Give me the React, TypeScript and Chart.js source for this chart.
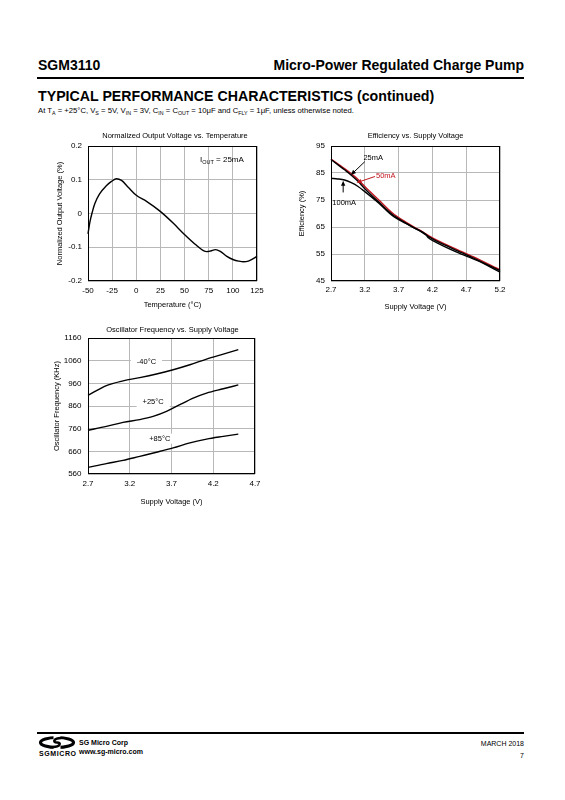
import React, { useEffect, useRef } from "react";
import { Chart, registerables } from "chart.js";
Chart.register(...registerables);

const FONT = '"Liberation Sans", Arial, Helvetica, sans-serif';
const GRID = "#b8b8b8";
const RED = "#c0161e";

// ---------- Chart 1: Normalized Output Voltage vs. Temperature ----------
const tempX = [-50, -48, -45.5, -43, -38, -31, -25.7, -20.5, -15.3, -8.4, 0, 10.6, 24.5, 38.4, 48.8, 62.6, 69.5, 73, 77, 82, 87, 93.8, 100.7, 106, 111, 116, 121, 125];
const normVout = [-0.06, -0.025, 0.005, 0.029, 0.058, 0.082, 0.095, 0.103, 0.098, 0.078, 0.054, 0.036, 0.007, -0.029, -0.059, -0.095, -0.11, -0.113, -0.111, -0.107, -0.112, -0.127, -0.137, -0.141, -0.143, -0.141, -0.134, -0.127];
const tempTicks = [-50, -25, 0, 25, 50, 75, 100, 125];
const tempTickLabels = ["-50", "-25", "0", "25", "50", "75", "100", "125"];
const voutTicks = [-0.2, -0.1, 0, 0.1, 0.2];
const voutTickLabels = ["-0.2", "-0.1", "0", "0.1", "0.2"];

// ---------- Chart 2: Efficiency vs. Supply Voltage ----------
const vEff = [2.7, 2.8, 2.9, 3.0, 3.1, 3.2, 3.4, 3.6, 3.8, 4.0, 4.2, 4.5, 4.8, 5.2];
const eff25mA = [90.0, 88.1, 86.2, 84.2, 81.9, 79.2, 74.4, 69.8, 66.5, 63.7, 60.6, 57.0, 53.6, 48.8];
const eff50mA = [90.2, 88.4, 86.6, 84.7, 82.6, 80.0, 75.2, 70.4, 66.9, 64.0, 61.0, 57.4, 54.0, 49.1];
const vEff100 = [2.7, 2.8, 2.9, 3.0, 3.1, 3.2, 3.4, 3.6, 3.8, 3.97, 4.1, 4.14, 4.22, 4.56, 4.86, 5.2];
const eff100mA = [83.0, 82.8, 82.4, 81.4, 80.0, 78.1, 74.0, 69.4, 66.4, 64.2, 62.3, 61.0, 59.8, 55.7, 52.6, 48.3];
const vEffTicks = [2.7, 3.2, 3.7, 4.2, 4.7, 5.2];
const vEffTickLabels = ["2.7", "3.2", "3.7", "4.2", "4.7", "5.2"];
const effTicks = [45, 55, 65, 75, 85, 95];
const effTickLabels = ["45", "55", "65", "75", "85", "95"];

// ---------- Chart 3: Oscillator Frequency vs. Supply Voltage ----------
const vOsc = [2.7, 2.92, 3.12, 3.32, 3.52, 3.72, 3.92, 4.12, 4.32, 4.5];
const fMinus40 = [907, 950, 971, 985, 1001, 1020, 1042, 1067, 1089, 1109];
const vOsc25 = [2.7, 2.92, 3.12, 3.32, 3.48, 3.64, 3.8, 3.96, 4.12, 4.32, 4.5];
const fPlus25 = [753, 770, 788, 800, 814, 836, 866, 895, 917, 936, 953];
const fPlus85 = [589, 606, 620, 638, 656, 675, 697, 714, 726, 736];
const vOscTicks = [2.7, 3.2, 3.7, 4.2, 4.7];
const vOscTickLabels = ["2.7", "3.2", "3.7", "4.2", "4.7"];
const freqTicks = [560, 660, 760, 860, 960, 1060, 1160];
const freqTickLabels = ["560", "660", "760", "860", "960", "1060", "1160"];

const pts = (xs: number[], ys: number[]) => xs.map((x, i) => ({ x, y: ys[i] }));

type Note =
  | { kind: "text"; x: number; y: number; text: string; color?: string; align?: CanvasTextAlign; bg?: number; sub?: [string, string, string] }
  | { kind: "arrow"; x1: number; y1: number; x2: number; y2: number; color?: string };

const framePlugin = {
  id: "frame",
  afterDatasetsDraw(chart: any) {
    const { ctx, chartArea: a } = chart;
    ctx.save();
    ctx.strokeStyle = "#000";
    ctx.lineWidth = 1;
    const l = Math.round(a.left) + 0.5, t = Math.round(a.top) + 0.5;
    const r = Math.round(a.right) - 0.5, b = Math.round(a.bottom) - 0.5;
    ctx.strokeRect(l, t, r - l, b - t);
    ctx.restore();
  },
};

function drawNotes(chart: any, notes: Note[], phase: "bg" | "fg") {
  const { ctx, scales } = chart;
  const xs = scales.x, ys = scales.y;
  ctx.save();
  ctx.font = `7.5px ${FONT}`;
  ctx.textBaseline = "middle";
  for (const n of notes) {
    if (n.kind === "text") {
      const px = xs.getPixelForValue(n.x), py = ys.getPixelForValue(n.y);
      ctx.textAlign = n.align || "center";
      if (phase === "bg" && n.bg) {
        const w = ctx.measureText(n.text).width + n.bg * 2;
        ctx.fillStyle = "#fff";
        ctx.fillRect(px - w / 2, py - 5, w, 10);
      }
      if (phase === "fg") {
        ctx.fillStyle = n.color || "#000";
        if (n.sub) {
          ctx.textAlign = "left";
          let cx = px;
          ctx.font = `8px ${FONT}`;
          ctx.fillText(n.sub[0], cx, py);
          cx += ctx.measureText(n.sub[0]).width;
          ctx.font = `5.5px ${FONT}`;
          ctx.fillText(n.sub[1], cx, py + 2.5);
          cx += ctx.measureText(n.sub[1]).width;
          ctx.font = `8px ${FONT}`;
          ctx.fillText(n.sub[2], cx, py);
          ctx.font = `7.5px ${FONT}`;
        } else {
          ctx.fillText(n.text, px, py);
        }
      }
    } else if (phase === "fg") {
      const x1 = xs.getPixelForValue(n.x1), y1 = ys.getPixelForValue(n.y1);
      const x2 = xs.getPixelForValue(n.x2), y2 = ys.getPixelForValue(n.y2);
      const c = n.color || "#000";
      const ang = Math.atan2(y2 - y1, x2 - x1);
      const hl = 5, hw = 2.2;
      ctx.strokeStyle = c;
      ctx.fillStyle = c;
      ctx.lineWidth = 1;
      ctx.beginPath();
      ctx.moveTo(x1, y1);
      ctx.lineTo(x2 - Math.cos(ang) * hl * 0.8, y2 - Math.sin(ang) * hl * 0.8);
      ctx.stroke();
      ctx.beginPath();
      ctx.moveTo(x2, y2);
      ctx.lineTo(x2 - Math.cos(ang) * hl - Math.sin(ang) * hw, y2 - Math.sin(ang) * hl + Math.cos(ang) * hw);
      ctx.lineTo(x2 - Math.cos(ang) * hl + Math.sin(ang) * hw, y2 - Math.sin(ang) * hl - Math.cos(ang) * hw);
      ctx.closePath();
      ctx.fill();
    }
  }
  ctx.restore();
}

interface Spec {
  title: string;
  titleDX: number;
  titleDY: number;
  datasets: any[];
  xMin: number; xMax: number; xTicks: number[]; xLabels: string[]; xTitle: string;
  yMin: number; yMax: number; yTicks: number[]; yLabels: string[]; yTitle: string;
  pad: { left: number; right: number; top: number; bottom: number };
  yWidth: number; xHeight: number;
  yTickPad: number; yTitlePad: number; xTickPad: number; xTitlePad: number;
  notes: Note[];
}

function buildConfig(s: Spec): any {
  const tickFont = { family: FONT, size: 8 };
  const titleFont = { family: FONT, size: 7.5 };
  return {
    type: "line",
    data: { datasets: s.datasets },
    options: {
      responsive: false,
      animation: false,
      events: [],
      layout: { padding: s.pad, autoPadding: false },
      plugins: { legend: { display: false }, tooltip: { enabled: false }, title: { display: false } },
      elements: { point: { radius: 0 } },
      scales: {
        x: {
          type: "linear", min: s.xMin, max: s.xMax,
          afterBuildTicks: (sc: any) => { sc.ticks = s.xTicks.map((v) => ({ value: v })); },
          afterFit: (sc: any) => { sc.height = s.xHeight; },
          grid: { color: GRID, lineWidth: 1, drawTicks: false },
          border: { display: false },
          ticks: {
            autoSkip: false, maxRotation: 0, padding: s.xTickPad, color: "#000", font: tickFont,
            callback: (v: number) => s.xLabels[s.xTicks.indexOf(v)] ?? "",
          },
          title: { display: true, text: s.xTitle, color: "#000", font: titleFont, padding: { top: 0, bottom: s.xTitlePad } },
        },
        y: {
          type: "linear", min: s.yMin, max: s.yMax,
          afterBuildTicks: (sc: any) => { sc.ticks = s.yTicks.map((v) => ({ value: v })); },
          afterFit: (sc: any) => { sc.width = s.yWidth; },
          grid: { color: GRID, lineWidth: 1, drawTicks: false },
          border: { display: false },
          ticks: {
            autoSkip: false, padding: s.yTickPad, color: "#000", font: tickFont,
            callback: (v: number) => s.yLabels[s.yTicks.indexOf(v)] ?? "",
          },
          title: { display: true, text: s.yTitle, color: "#000", font: titleFont, padding: { top: s.yTitlePad, bottom: 0 } },
        },
      },
    },
    plugins: [
      framePlugin,
      {
        id: "chartTitle",
        afterDraw(chart: any) {
          const { ctx, chartArea: a } = chart;
          ctx.save();
          ctx.font = `7.5px ${FONT}`;
          ctx.fillStyle = "#000";
          ctx.textAlign = "center";
          ctx.textBaseline = "middle";
          ctx.fillText(s.title, (a.left + a.right) / 2 + s.titleDX, a.top - s.titleDY);
          ctx.restore();
        },
      },
      {
        id: "notes",
        beforeDatasetsDraw(chart: any) { drawNotes(chart, s.notes, "bg"); },
        afterDatasetsDraw(chart: any) { drawNotes(chart, s.notes, "fg"); },
      },
    ],
  };
}

const lineDs = (data: any[], color = "#000") => ({
  data, borderColor: color, borderWidth: 1.4, pointRadius: 0, fill: false,
  cubicInterpolationMode: "monotone", clip: false,
});

const spec1: Spec = {
  title: "Normalized Output Voltage vs. Temperature", titleDX: 2.5, titleDY: 10,
  datasets: [lineDs(pts(tempX, normVout))],
  xMin: -50, xMax: 125, xTicks: tempTicks, xLabels: tempTickLabels, xTitle: "Temperature (°C)",
  yMin: -0.2, yMax: 0.2, yTicks: voutTicks, yLabels: voutTickLabels, yTitle: "Normalized Output Voltage (%)",
  pad: { left: 0, right: 23, top: 21, bottom: 0 },
  yWidth: 48, xHeight: 34, yTickPad: 6, yTitlePad: 15.5, xTickPad: 5, xTitlePad: 5.5,
  notes: [{ kind: "text", x: 66, y: 0.16, text: "IOUT = 25mA", sub: ["I", "OUT", " = 25mA"] }],
};

const spec2: Spec = {
  title: "Efficiency vs. Supply Voltage", titleDX: 0, titleDY: 10.3,
  datasets: [
    lineDs(pts(vEff100, eff100mA)),
    lineDs(pts(vEff, eff25mA)),
    lineDs(pts(vEff, eff50mA), RED),
  ],
  xMin: 2.7, xMax: 5.2, xTicks: vEffTicks, xLabels: vEffTickLabels, xTitle: "Supply Voltage (V)",
  yMin: 45, yMax: 95, yTicks: effTicks, yLabels: effTickLabels, yTitle: "Efficiency (%)",
  pad: { left: 0, right: 30, top: 21, bottom: 0 },
  yWidth: 41, xHeight: 34, yTickPad: 6, yTitlePad: 7.2, xTickPad: 3.5, xTitlePad: 3.8,
  notes: [
    { kind: "text", x: 3.18, y: 90.44, text: "25mA", align: "left" },
    { kind: "arrow", x1: 3.2, y1: 89.2, x2: 2.995, y2: 84.3 },
    { kind: "text", x: 3.365, y: 84.0, text: "50mA", align: "left", color: RED },
    { kind: "arrow", x1: 3.35, y1: 83.7, x2: 3.078, y2: 81.4, color: RED },
    { kind: "text", x: 2.72, y: 73.8, text: "100mA", align: "left" },
    { kind: "arrow", x1: 2.88, y1: 77.8, x2: 2.88, y2: 82.1 },
  ],
};

const spec3: Spec = {
  title: "Oscillator Frequency vs. Supply Voltage", titleDX: 1, titleDY: 8,
  datasets: [
    lineDs(pts(vOsc, fMinus40)),
    lineDs(pts(vOsc25, fPlus25)),
    lineDs(pts(vOsc, fPlus85)),
  ],
  xMin: 2.7, xMax: 4.7, xTicks: vOscTicks, xLabels: vOscTickLabels, xTitle: "Supply Voltage (V)",
  yMin: 560, yMax: 1160, yTicks: freqTicks, yLabels: freqTickLabels, yTitle: "Oscillator Frequency (KHz)",
  pad: { left: 0, right: 25, top: 18, bottom: 0 },
  yWidth: 48, xHeight: 36, yTickPad: 6.5, yTitlePad: 12.8, xTickPad: 5.2, xTitlePad: 3.8,
  notes: [
    { kind: "text", x: 3.4, y: 1056, text: "-40°C", bg: 6 },
    { kind: "text", x: 3.48, y: 876, text: "+25°C", bg: 6 },
    { kind: "text", x: 3.56, y: 716, text: "+85°C", bg: 4 },
  ],
};

function ChartBox({ left, top, width, height, spec }: { left: number; top: number; width: number; height: number; spec: Spec }) {
  const ref = useRef<HTMLCanvasElement>(null);
  useEffect(() => {
    const chart = new Chart(ref.current as HTMLCanvasElement, buildConfig(spec));
    return () => chart.destroy();
  }, [spec]);
  return (
    <div style={{ position: "absolute", left, top, width, height }}>
      <canvas ref={ref} width={width} height={height} style={{ width, height, display: "block" }} />
    </div>
  );
}

const Sub = ({ children }: { children: React.ReactNode }) => (
  <span style={{ fontSize: 5.3, position: "relative", top: 1.8 }}>{children}</span>
);

function Logo() {
  return (
    <svg width={46} height={24} viewBox="0 0 46 24" style={{ position: "absolute", left: 36, top: 735 }}>
      <ellipse cx={21} cy={7.5} rx={16.5} ry={5} fill="none" stroke="#000" strokeWidth={3.2} />
      <rect x={17.5} y={0} width={7} height={15} fill="#fff" />
      <path d="M25 3 C18 3 16 7.5 21 7.5 C26 7.5 24 12 17 12" fill="none" stroke="#000" strokeWidth={2.4} />
      <text x={3} y={20.5} fontFamily={FONT} fontSize={7} fontWeight="bold" letterSpacing={0.6} fill="#000">SGMICRO</text>
    </svg>
  );
}

export default function App() {
  return (
    <div style={{ position: "absolute", left: 0, top: 0, width: 565, height: 800, background: "#fff", fontFamily: FONT, color: "#000", overflow: "hidden" }}>
      <div style={{ position: "absolute", left: 38, top: 57, fontSize: 14, fontWeight: "bold", lineHeight: "16px", whiteSpace: "nowrap" }}>SGM3110</div>
      <div style={{ position: "absolute", right: 41, top: 57, fontSize: 14, fontWeight: "bold", lineHeight: "16px", whiteSpace: "nowrap" }}>Micro-Power Regulated Charge Pump</div>
      <div style={{ position: "absolute", left: 37, top: 77, width: 487, height: 2, background: "#000" }} />
      <div style={{ position: "absolute", left: 38, top: 88, fontSize: 14.2, fontWeight: "bold", lineHeight: "16px", whiteSpace: "nowrap" }}>TYPICAL PERFORMANCE CHARACTERISTICS (continued)</div>
      <div style={{ position: "absolute", left: 38, top: 106, fontSize: 7.7, lineHeight: "10px", whiteSpace: "nowrap" }}>
        At T<Sub>A</Sub> = +25°C, V<Sub>S</Sub> = 5V, V<Sub>IN</Sub> = 3V, C<Sub>IN</Sub> = C<Sub>OUT</Sub> = 10μF and C<Sub>FLY</Sub> = 1μF, unless otherwise noted.
      </div>

      <ChartBox left={40} top={125} width={240} height={190} spec={spec1} />
      <ChartBox left={290} top={125} width={240} height={190} spec={spec2} />
      <ChartBox left={40} top={320} width={240} height={190} spec={spec3} />

      <div style={{ position: "absolute", left: 37, top: 732, width: 487, height: 2, background: "#000" }} />
      <Logo />
      <div style={{ position: "absolute", left: 79, top: 739, fontSize: 7, fontWeight: "bold", lineHeight: "8px", whiteSpace: "nowrap", color: "#000" }}>SG Micro Corp</div>
      <div style={{ position: "absolute", left: 79, top: 748, fontSize: 7, fontWeight: "bold", lineHeight: "8px", whiteSpace: "nowrap", color: "#000" }}>www.sg-micro.com</div>
      <div style={{ position: "absolute", right: 41, top: 740, fontSize: 7, lineHeight: "8px", whiteSpace: "nowrap" }}>MARCH 2018</div>
      <div style={{ position: "absolute", right: 41, top: 752, fontSize: 7, lineHeight: "8px", whiteSpace: "nowrap" }}>7</div>
    </div>
  );
}
